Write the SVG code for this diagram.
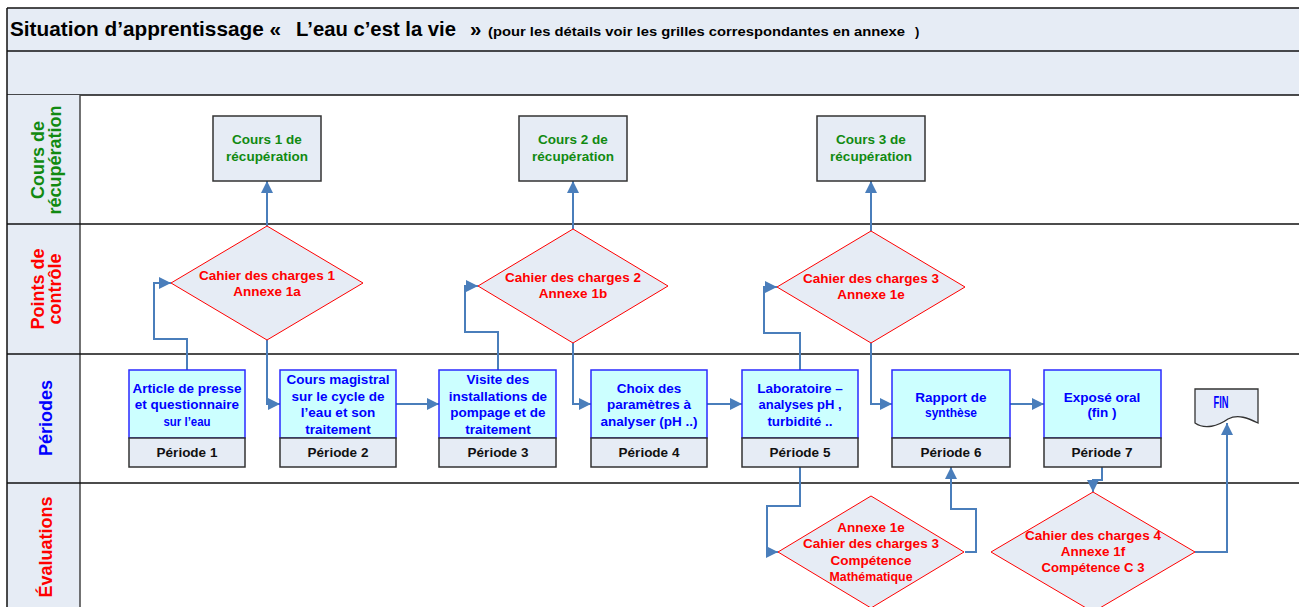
<svg xmlns="http://www.w3.org/2000/svg" width="1299" height="607" viewBox="0 0 1299 607">
<defs>
<style>
text{font-family:"Liberation Sans",Arial,sans-serif;font-weight:bold;}
.lane{font-size:18px;text-anchor:middle;}
.g{fill:#118a11;}
.r{fill:#ff0000;}
.b{fill:#0000ff;}
.k{fill:#111111;}
.t{font-size:13.5px;text-anchor:middle;}
.dia{fill:#e6ecf5;stroke:#ff0000;stroke-width:1;}
.box{fill:#e6ecf5;stroke:#333333;stroke-width:1.5;}
.top{fill:#ccffff;stroke:#2a2aff;stroke-width:1.5;}
.con{fill:none;stroke:#4a7ebb;stroke-width:2;marker-end:url(#ah);}
.ln{stroke:#111111;stroke-width:1.5;}
</style>
<marker id="ah" markerUnits="userSpaceOnUse" markerWidth="12" markerHeight="12" viewBox="0 0 10 10" refX="10" refY="5" orient="auto">
<path d="M0,0 L10,5 L0,10 z" fill="#4a7ebb"/>
</marker>
</defs>
<rect x="0" y="0" width="1299" height="607" fill="#ffffff"/>
<g id="header">
<rect x="7" y="8" width="1300" height="87" fill="#e6ecf5"/>
<line class="ln" x1="7" y1="8" x2="1299" y2="8"/>
<line class="ln" x1="7" y1="51" x2="1299" y2="51"/>
<line class="ln" x1="7" y1="95" x2="1299" y2="95"/>
<text x="10" y="36" font-size="20.5" fill="#000" textLength="271" lengthAdjust="spacingAndGlyphs">Situation d’apprentissage «</text>
<text x="296" y="36" font-size="20.5" fill="#000" textLength="160" lengthAdjust="spacingAndGlyphs">L’eau c’est la vie</text>
<text x="470" y="36" font-size="20.5" fill="#000">»</text>
<text x="488" y="36" font-size="13" fill="#000" textLength="417" lengthAdjust="spacingAndGlyphs">(pour les détails voir les grilles correspondantes en annexe</text>
<text x="915" y="36" font-size="13" fill="#000">)</text>
</g>
<g id="lanes">
<rect x="7" y="95" width="73" height="512" fill="#e6ecf5"/>
<line class="ln" x1="7" y1="8" x2="7" y2="607"/>
<line x1="80" y1="95" x2="80" y2="607" stroke="#444" stroke-width="1.5"/>
<line class="ln" x1="7" y1="224" x2="1299" y2="224"/>
<line class="ln" x1="7" y1="354" x2="1299" y2="354"/>
<line class="ln" x1="7" y1="483" x2="1299" y2="483"/>
<text class="lane g" transform="translate(47,160) rotate(-90)"><tspan x="0" y="-3">Cours de</tspan><tspan x="0" y="14">récupération</tspan></text>
<text class="lane r" transform="translate(47,289) rotate(-90)"><tspan x="0" y="-3">Points de</tspan><tspan x="0" y="14">contrôle</tspan></text>
<text class="lane b" transform="translate(52,418) rotate(-90)"><tspan x="0" y="0">Périodes</tspan></text>
<text class="lane r" transform="translate(52,547) rotate(-90)"><tspan x="0" y="0">Évaluations</tspan></text>
</g>
<g id="connectors">
<path class="con" d="M267,226 V181"/>
<path class="con" d="M573,229 V181"/>
<path class="con" d="M871,231 V181"/>
<path class="con" d="M187,370 V339 H154 V283 H171"/>
<path class="con" d="M267,340 V404 H280"/>
<path class="con" d="M396,404 H439"/>
<path class="con" d="M498,370 V332 H465 V286 H478"/>
<path class="con" d="M573,343 V404 H591"/>
<path class="con" d="M707,404 H742"/>
<path class="con" d="M800,370 V333 H764 V287 H777"/>
<path class="con" d="M871,343 V404 H892"/>
<path class="con" d="M1010,404 H1044"/>
<path class="con" d="M800,467 V506 H767 V552 H778"/>
<path class="con" d="M965,552 H976 V509 H951 V467"/>
<path class="con" d="M1102,467 V480 H1093 V492"/>
<path class="con" d="M1195,552 H1227 V423"/>
</g>
<g id="cours1"><rect class="box" x="213" y="116" width="108" height="65"/><text class="t g" x="267" y="144">Cours 1 de</text><text class="t g" x="267" y="161">récupération</text></g>
<g id="cours2"><rect class="box" x="519" y="116" width="108" height="65"/><text class="t g" x="573" y="144">Cours 2 de</text><text class="t g" x="573" y="161">récupération</text></g>
<g id="cours3"><rect class="box" x="817" y="116" width="108" height="65"/><text class="t g" x="871" y="144">Cours 3 de</text><text class="t g" x="871" y="161">récupération</text></g>
<g id="cdc1"><polygon class="dia" points="267,226 363,283 267,340 171,283"/><text class="t r" x="267" y="280">Cahier des charges 1</text><text class="t r" x="267" y="296">Annexe 1a</text></g>
<g id="cdc2"><polygon class="dia" points="573,229 668,286 573,343 478,286"/><text class="t r" x="573" y="282">Cahier des charges 2</text><text class="t r" x="573" y="298">Annexe 1b</text></g>
<g id="cdc3"><polygon class="dia" points="871,231 965,287 871,343 777,287"/><text class="t r" x="871" y="283">Cahier des charges 3</text><text class="t r" x="871" y="299">Annexe 1e</text></g>
<g id="p1"><rect class="top" x="129" y="370" width="116" height="68"/><rect class="box" x="129" y="438" width="116" height="29"/>
<text class="t b" x="187" y="393">Article de presse</text><text class="t b" x="187" y="409">et questionnaire</text><text class="t b" x="187" y="426" textLength="47" lengthAdjust="spacingAndGlyphs">sur l’eau</text><text class="t k" x="187" y="457">Période 1</text></g>
<g id="p2"><rect class="top" x="280" y="370" width="116" height="68"/><rect class="box" x="280" y="438" width="116" height="29"/>
<text class="t b" x="338" y="384">Cours magistral</text><text class="t b" x="338" y="401">sur le cycle de</text><text class="t b" x="338" y="417">l’eau et son</text><text class="t b" x="338" y="434">traitement</text><text class="t k" x="338" y="457">Période 2</text></g>
<g id="p3"><rect class="top" x="439" y="370" width="117" height="68"/><rect class="box" x="439" y="438" width="117" height="29"/>
<text class="t b" x="498" y="384">Visite des</text><text class="t b" x="498" y="401">installations de</text><text class="t b" x="498" y="417">pompage et de</text><text class="t b" x="498" y="434">traitement</text><text class="t k" x="498" y="457">Période 3</text></g>
<g id="p4"><rect class="top" x="591" y="370" width="116" height="68"/><rect class="box" x="591" y="438" width="116" height="29"/>
<text class="t b" x="649" y="393">Choix des</text><text class="t b" x="649" y="409">paramètres à</text><text class="t b" x="649" y="426">analyser (pH  ..)</text><text class="t k" x="649" y="457">Période 4</text></g>
<g id="p5"><rect class="top" x="742" y="370" width="116" height="68"/><rect class="box" x="742" y="438" width="116" height="29"/>
<text class="t b" x="800" y="393">Laboratoire –</text><text class="t b" x="800" y="409" textLength="83" lengthAdjust="spacingAndGlyphs">analyses pH   ,</text><text class="t b" x="800" y="426">turbidité ..</text><text class="t k" x="800" y="457">Période 5</text></g>
<g id="p6"><rect class="top" x="892" y="370" width="118" height="68"/><rect class="box" x="892" y="438" width="118" height="29"/>
<text class="t b" x="951" y="402">Rapport de</text><text class="t b" x="951" y="417" textLength="52" lengthAdjust="spacingAndGlyphs">synthèse</text><text class="t k" x="951" y="457">Période 6</text></g>
<g id="p7"><rect class="top" x="1044" y="370" width="117" height="68"/><rect class="box" x="1044" y="438" width="117" height="29"/>
<text class="t b" x="1102" y="402">Exposé oral</text><text class="t b" x="1102" y="417">(fin )</text><text class="t k" x="1102" y="457">Période 7</text></g>
<g id="fin"><path d="M1195,389 H1258 V423 C1248,418 1238,414 1228,419 C1218,426 1205,430 1195,423 Z" fill="#e6ecf5" stroke="#333" stroke-width="1.3"/>
<text class="b" x="1221" y="408" font-size="16" text-anchor="middle" textLength="15" lengthAdjust="spacingAndGlyphs">FIN</text></g>
<g id="eval1"><polygon class="dia" points="871,496 964,552 871,608 778,552"/>
<text class="t r" x="871" y="532">Annexe 1e</text><text class="t r" x="871" y="548">Cahier des charges 3</text><text class="t r" x="871" y="565">Compétence</text><text class="t r" x="871" y="581" textLength="83" lengthAdjust="spacingAndGlyphs">Mathématique</text></g>
<g id="eval2"><polygon class="dia" points="1093,492 1195,552 1093,612 991,552"/>
<text class="t r" x="1093" y="540">Cahier des charges 4</text><text class="t r" x="1093" y="556">Annexe 1f</text><text class="t r" x="1093" y="572" textLength="103" lengthAdjust="spacingAndGlyphs">Compétence C   3</text></g>
</svg>
